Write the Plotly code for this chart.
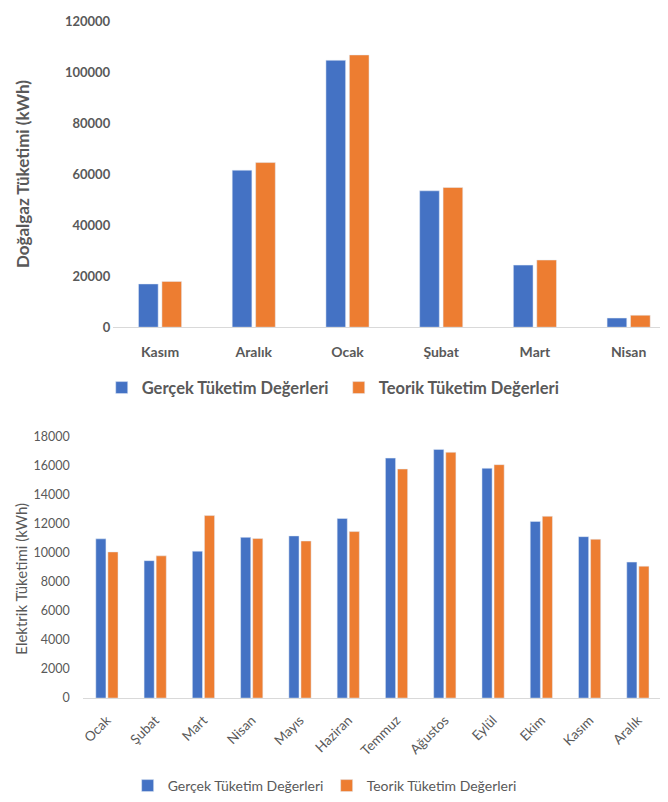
import plotly.graph_objects as go

gas_months = ["Kasım", "Aralık", "Ocak", "Şubat", "Mart", "Nisan"]
gas_real = [17000, 61700, 104900, 53600, 24400, 3600]
gas_theory = [18000, 64700, 107000, 54900, 26400, 4700]

elec_months = ["Ocak", "Şubat", "Mart", "Nisan", "Mayıs", "Haziran", "Temmuz",
               "Ağustos", "Eylül", "Ekim", "Kasım", "Aralık"]
elec_real = [10950, 9450, 10100, 11050, 11150, 12350, 16500, 17100, 15800, 12150, 11100, 9350]
elec_theory = [10050, 9780, 12550, 10970, 10800, 11450, 15750, 16900, 16050, 12500, 10920, 9070]

s_real = "Gerçek Tüketim Değerleri"
s_theory = "Teorik Tüketim Değerleri"

BLUE = "#4472C4"
ORANGE = "#ED7D31"
GRAY = "#595959"
FONT = "Lato"

# page body has an 8px margin, so the figure is sized to fit inside the window
W, H = 660, 794


def py(p):
    return 1 - p / H


def px(p):
    return p / W


fig = go.Figure()
fig.add_trace(go.Bar(x=gas_months, y=gas_real, name=s_real, marker_color=BLUE,
                     xaxis="x", yaxis="y", legend="legend"))
fig.add_trace(go.Bar(x=gas_months, y=gas_theory, name=s_theory, marker_color=ORANGE,
                     xaxis="x", yaxis="y", legend="legend"))
fig.add_trace(go.Bar(x=elec_months, y=elec_real, name=s_real, marker_color=BLUE,
                     xaxis="x2", yaxis="y2", legend="legend2"))
fig.add_trace(go.Bar(x=elec_months, y=elec_theory, name=s_theory, marker_color=ORANGE,
                     xaxis="x2", yaxis="y2", legend="legend2"))

fig.update_layout(
    width=W, height=H,
    margin=dict(l=0, r=0, t=0, b=0),
    paper_bgcolor="white", plot_bgcolor="white",
    barmode="group", bargap=0.5, bargroupgap=0.16,
    font=dict(family=FONT, color=GRAY),
    xaxis=dict(domain=[px(103.5), 1.0], anchor="y", range=[-0.5, 5.42],
               showline=True, linecolor="#d9d9d9", linewidth=1, ticks="",
               showgrid=False, tickfont=dict(size=14, color=GRAY, weight="bold"),
               ticklabelstandoff=12, fixedrange=True),
    yaxis=dict(domain=[py(318), py(6)], anchor="x", range=[0, 120000],
               tickvals=[0, 20000, 40000, 60000, 80000, 100000, 120000],
               ticktext=["0", "20000", "40000", "60000", "80000", "100000", "120000"],
               showgrid=False, zeroline=False, showline=False, ticks="",
               tickfont=dict(size=13, color=GRAY, weight="bold"), ticklabelstandoff=2),
    xaxis2=dict(domain=[px(73), px(654)], anchor="y2",
                showline=True, linecolor="#d9d9d9", linewidth=1, ticks="",
                showgrid=False, tickangle=-45, tickfont=dict(size=13.5, color=GRAY),
                ticklabelstandoff=8),
    yaxis2=dict(domain=[py(697), py(429.5)], anchor="x2", range=[0, 18000],
                tickvals=list(range(0, 18001, 2000)), tickformat="d",
                showgrid=False, zeroline=False, showline=False, ticks="",
                tickfont=dict(size=12.5, color=GRAY), ticklabelstandoff=12),
    legend=dict(orientation="h", x=px(92), xanchor="left", y=py(380), yanchor="middle",
                font=dict(size=16.5, color=GRAY, weight="bold"), entrywidth=192,
                itemwidth=30, traceorder="normal", bgcolor="rgba(0,0,0,0)"),
    legend2=dict(orientation="h", x=px(118), xanchor="left", y=py(787), yanchor="middle",
                 font=dict(size=14, color=GRAY), entrywidth=154,
                 itemwidth=30, traceorder="normal", bgcolor="rgba(0,0,0,0)"),
    annotations=[
        dict(text="Doğalgaz Tüketimi (kWh)", textangle=-90, x=0, xanchor="left",
             y=py(162), yanchor="middle", xref="paper", yref="paper", showarrow=False,
             font=dict(size=17, color=GRAY, weight="bold")),
        dict(text="Elektrik Tüketimi (kWh)", textangle=-90, x=0, xanchor="left",
             y=py(575), yanchor="middle", xref="paper", yref="paper", showarrow=False,
             font=dict(size=15, color=GRAY)),
    ],
)

fig.write_html("out.html")
